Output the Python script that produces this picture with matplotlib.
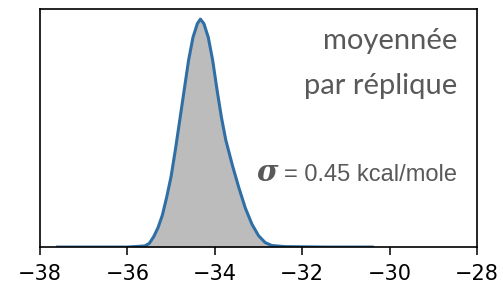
import matplotlib
matplotlib.use("Agg")
import matplotlib.pyplot as plt

# energie (kcal/mole) et densite relative
energie = [-37.6, -36.0, -35.6, -35.5, -35.4, -35.3, -35.2, -35.1, -35.0, -34.9,
           -34.8, -34.7, -34.6, -34.5, -34.4, -34.33, -34.25, -34.15, -34.05,
           -33.95, -33.85, -33.75, -33.6, -33.45, -33.3, -33.15, -33.0, -32.85,
           -32.7, -32.4, -31.5, -30.4]
densite = [0.0, 0.0, 0.005, 0.016, 0.045, 0.085, 0.14, 0.22, 0.31, 0.43,
           0.56, 0.69, 0.82, 0.92, 0.98, 1.0, 0.98, 0.92, 0.82,
           0.69, 0.57, 0.47, 0.36, 0.26, 0.17, 0.10, 0.05, 0.02,
           0.007, 0.002, 0.0, 0.0]
xticks = [-38, -36, -34, -32, -30, -28]

fig = plt.figure(figsize=(5.03, 2.83), dpi=100)
ax = fig.add_axes([0.0795, 0.127, 0.869, 0.841])

ax.fill_between(energie, densite, 0, color="#bcbcbc", lw=0)
ax.plot(energie, densite, color="#2f6fa6", lw=2.2)

ax.set_xlim(-38, -28)
ax.set_ylim(0, 1.044)
ax.set_xticks(xticks)
ax.set_yticks([])
ax.tick_params(axis="x", labelsize=15, length=6, width=1.1, pad=6)
for s in ax.spines.values():
    s.set_linewidth(1.2)

gris = "#595959"
ax.text(0.955, 0.832, "moyennée", transform=ax.transAxes, ha="right", va="baseline",
        fontsize=21, color=gris, family="Lato")
ax.text(0.955, 0.645, "par réplique", transform=ax.transAxes, ha="right", va="baseline",
        fontsize=21, color=gris, family="Lato")
ax.text(0.955, 0.277, "= 0.45 kcal/mole", transform=ax.transAxes, ha="right", va="baseline",
        fontsize=17, color=gris, family="Liberation Sans")
ax.text(0.545, 0.277, "σ", transform=ax.transAxes, ha="right", va="baseline",
        fontsize=21, color=gris, family="DejaVu Serif", weight="bold", style="italic")

plt.savefig("out.png", dpi=100)
